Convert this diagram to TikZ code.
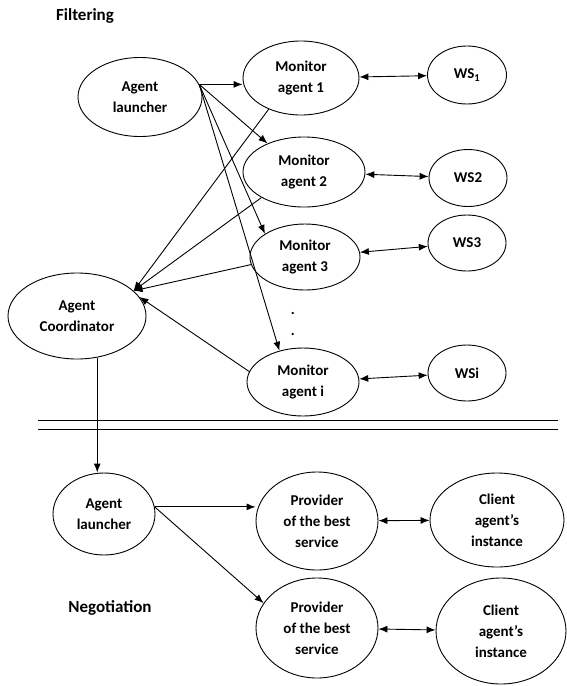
\documentclass[tikz,border=0pt]{standalone}
\usepackage{fontspec}
\setmainfont{Carlito}
\usetikzlibrary{arrows.meta,shapes.geometric}

\begin{document}
\begin{tikzpicture}[x=1pt,y=-1pt,>={Latex[length=9pt,width=7pt]},line width=0.9pt,
	agent/.style={ellipse, draw, inner sep=0pt, align=center, font=\bfseries\fontsize{15}{21}\selectfont},
	title/.style={font=\bfseries\fontsize{17}{20}\selectfont}]
	\useasboundingbox (0,0) rectangle (566,686);

	\node[title] (filt) at (85,16) {Filtering};
	\node[title] (nego) at (110,608) {Negotiation};

	\node[agent, minimum width=124pt, minimum height=79pt] (launch) at (140,97) {Agent\\launcher};
	\node[agent, minimum width=138pt, minimum height=86pt] (coord) at (77,316) {Agent\\Coordinator};

	\node[agent, minimum width=116pt, minimum height=74pt] (mon1) at (301,78) {Monitor\\agent 1};
	\node[agent, minimum width=122pt, minimum height=70pt] (mon2) at (304,172) {Monitor\\agent 2};
	\node[agent, minimum width=110pt, minimum height=66pt] (mon3) at (305,257) {Monitor\\agent 3};
	\node[agent, minimum width=112pt, minimum height=68pt] (moni) at (303,382) {Monitor\\agent i};
	\node[font=\bfseries\fontsize{15}{21}\selectfont] (dotA) at (293,313) {.};
	\node[font=\bfseries\fontsize{15}{21}\selectfont] (dotB) at (293,334) {.};

	\node[agent, minimum width=79pt, minimum height=58pt] (ws1) at (467,75) {WS\textsubscript{1}};
	\node[agent, minimum width=78pt, minimum height=57pt] (ws2) at (468,178) {WS2};
	\node[agent, minimum width=78pt, minimum height=56pt] (ws3) at (467,243) {WS3};
	\node[agent, minimum width=78pt, minimum height=56pt] (wsi) at (467,373) {WSi};

	\draw[->] (launch.12) -- (launch.12 -| mon1.west);
	\draw[->] (launch.12) -- (mon2.142);
	\draw[->] (launch.12) -- (mon3.150);
	\draw[->] (launch.12) -- (moni.127);

	\draw[->] (mon1.224) -- (coord.24);
	\draw[->] (mon2.211) -- (coord.24);
	\draw[->] (mon3.188) -- (coord.24);
	\draw[->] (moni.169) -- (coord.17);

	\draw[<->] (mon1) -- (ws1);
	\draw[<->] (mon2) -- (ws2);
	\draw[<->] (mon3) -- (ws3);
	\draw[<->] (moni) -- (wsi);

	\draw (38,420) -- (558,420);
	\draw (38,429) -- (558,429);

	\node[agent, minimum width=102pt, minimum height=82pt] (launch2) at (104,514) {Agent\\launcher};
	\node[agent, minimum width=122pt, minimum height=98pt] (prov1) at (317,521) {Provider\\of the best\\service};
	\node[agent, minimum width=134pt, minimum height=94pt] (cli1) at (497,520) {Client\\agent’s\\instance};
	\node[agent, minimum width=122pt, minimum height=100pt] (prov2) at (317,628) {Provider\\of the best\\service};
	\node[agent, minimum width=130pt, minimum height=106pt] (cli2) at (501,631) {Client\\agent’s\\instance};

	\draw[->] (coord.-64) -- (coord.-64 |- launch2.north);
	\draw[->] (launch2.8) -- (launch2.8 -| prov1.west);
	\draw[->] (launch2.8) -- (prov2.155);
	\draw[<->] (prov1) -- (cli1);
	\draw[<->] (prov2) -- (cli2);
\end{tikzpicture}
\end{document}
